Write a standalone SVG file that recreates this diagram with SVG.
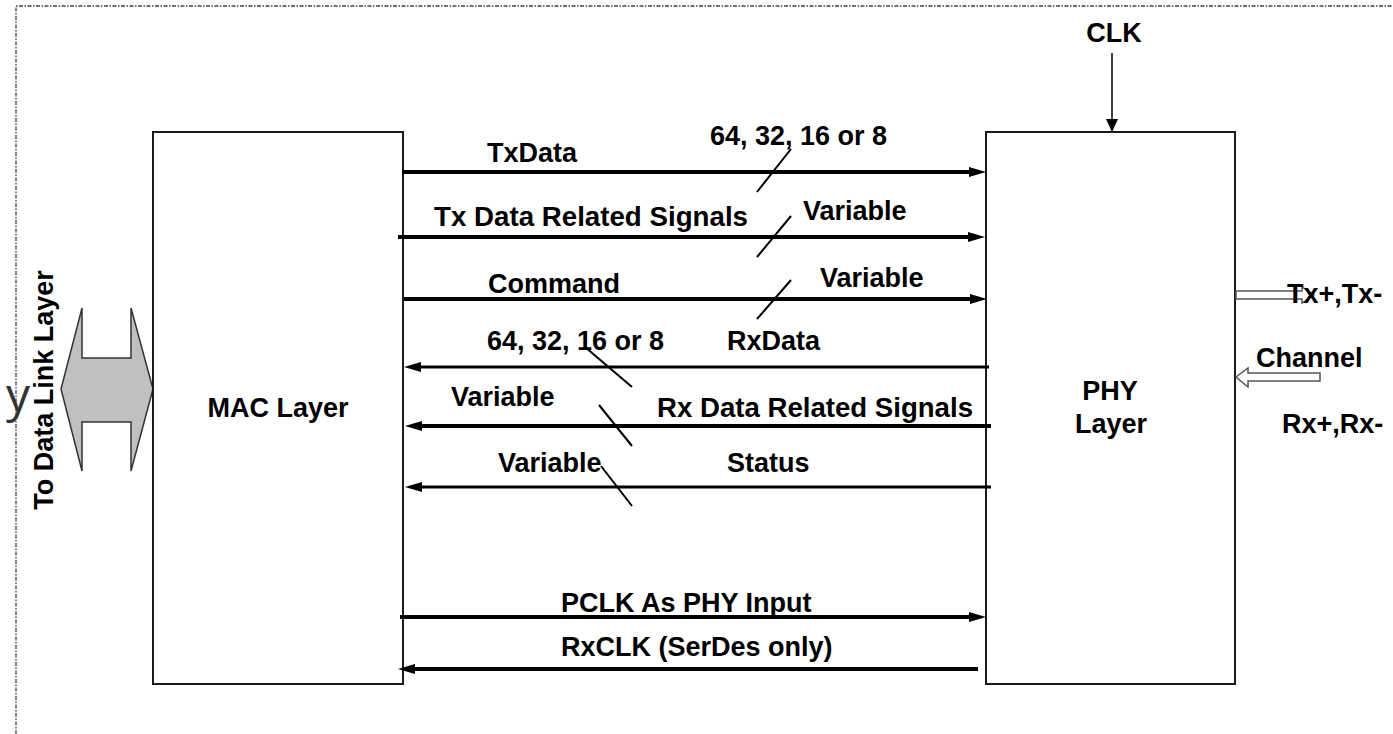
<svg xmlns="http://www.w3.org/2000/svg" width="1393" height="734" viewBox="0 0 1393 734">
  <style>
    .lbl { font-family: "Liberation Sans", Arial, sans-serif; font-weight: bold; font-size: 27px; fill: #000; }
    .box { fill: #fff; stroke: #1a1a1a; stroke-width: 2; }
    .bus { stroke: #000; stroke-width: 4; fill: none; }
    .bus-thin { stroke: #000; stroke-width: 3; fill: none; }
    .width { stroke: #000; stroke-width: 2; }
    .hollow { fill: #fff; stroke: #555; stroke-width: 1.5; }
    .frame { fill: none; stroke: #444; stroke-width: 1.3; stroke-dasharray: 4 1.5 1.5 1.5; }
  </style>
  <defs>
    <marker id="head" markerUnits="userSpaceOnUse" markerWidth="18" markerHeight="12" viewBox="0 0 18 12" refX="1" refY="6" orient="auto">
      <path d="M0,1 L17,6 L0,11 z" fill="#000"/>
    </marker>
    <marker id="head-sm" markerUnits="userSpaceOnUse" markerWidth="14" markerHeight="14" viewBox="0 0 14 14" refX="1" refY="7" orient="auto">
      <path d="M0,1 L13,7 L0,13 z" fill="#000"/>
    </marker>
  </defs>

  <rect width="1393" height="734" fill="#fff"/>

  <!-- page frame -->
  <path class="frame" d="M16,734 L16,6 L1393,6"/>

  <!-- stray glyph at the left margin -->
  <text x="6" y="412" font-family="'Open Sans', 'DejaVu Sans', sans-serif" font-size="48" fill="#333">y</text>

  <!-- link to the data link layer -->
  <g id="datalink">
    <path d="M61,389 L82,308 L82,358 L131,358 L131,308 L153,389 L131,471 L131,422 L82,422 L82,471 Z" fill="#c0c0c0" stroke="#333" stroke-width="1.5" stroke-linejoin="miter"/>
    <text class="lbl" transform="translate(53,390) rotate(-90)" text-anchor="middle">To Data Link Layer</text>
  </g>

  <!-- MAC block -->
  <g id="mac">
    <rect class="box" x="153" y="132" width="250" height="552"/>
    <text class="lbl" x="278" y="417" text-anchor="middle">MAC Layer</text>
  </g>

  <!-- PHY block -->
  <g id="phy">
    <rect class="box" x="986" y="132" width="249" height="552"/>
    <text class="lbl" x="1110" y="400" text-anchor="middle">PHY</text>
    <text class="lbl" x="1111" y="433" text-anchor="middle">Layer</text>
  </g>

  <!-- clock input -->
  <g id="clk">
    <line x1="1112" y1="53" x2="1112" y2="120" stroke="#000" stroke-width="1.5" marker-end="url(#head-sm)"/>
    <text class="lbl" x="1114" y="42" text-anchor="middle">CLK</text>
  </g>

  <!-- line side -->
  <g id="line-side">
    <path class="hollow" d="M1236,291 L1302,291 L1302,287 L1314,295 L1302,303 L1302,299 L1236,299 Z"/>
    <text class="lbl" x="1287" y="303">Tx+,Tx-</text>
    <path class="hollow" d="M1236,377 L1248,368 L1248,373 L1320,373 L1320,381 L1248,381 L1248,387 Z"/>
    <text class="lbl" x="1256" y="367">Channel</text>
    <text class="lbl" x="1282" y="433">Rx+,Rx-</text>
  </g>

  <!-- MAC/PHY interface signals -->
  <g id="connectors">
    <line class="bus" x1="402" y1="172" x2="970" y2="172" marker-end="url(#head)"/>
    <line class="bus" x1="398" y1="237" x2="969" y2="237" marker-end="url(#head)"/>
    <line class="bus" x1="404" y1="299" x2="971" y2="299" marker-end="url(#head)"/>
    <line class="bus-thin" x1="989" y1="367" x2="420" y2="367" marker-end="url(#head)"/>
    <line class="bus" x1="991" y1="426" x2="421" y2="426" marker-end="url(#head)"/>
    <line class="bus-thin" x1="991" y1="487" x2="421" y2="487" marker-end="url(#head)"/>
    <line class="bus" x1="400" y1="617" x2="970" y2="617" marker-end="url(#head)"/>
    <line class="bus" x1="978" y1="669" x2="414" y2="669" marker-end="url(#head)"/>

    <!-- bus width ticks -->
    <line class="width" x1="757" y1="192" x2="791" y2="149"/>
    <line class="width" x1="757" y1="257" x2="791" y2="216"/>
    <line class="width" x1="757" y1="319" x2="791" y2="280"/>
    <line class="width" x1="585" y1="347" x2="632" y2="387"/>
    <line class="width" x1="599" y1="405" x2="632" y2="446"/>
    <line class="width" x1="601" y1="466" x2="632" y2="506"/>
  </g>

  <!-- signal labels -->
  <g id="labels">
    <text class="lbl" x="487" y="162">TxData</text>
    <text class="lbl" x="710" y="145">64, 32, 16 or 8</text>
    <text class="lbl" x="434" y="226" textLength="314" lengthAdjust="spacingAndGlyphs">Tx Data Related Signals</text>
    <text class="lbl" x="803" y="220">Variable</text>
    <text class="lbl" x="488" y="293">Command</text>
    <text class="lbl" x="820" y="287">Variable</text>
    <text class="lbl" x="487" y="350">64, 32, 16 or 8</text>
    <text class="lbl" x="727" y="350">RxData</text>
    <text class="lbl" x="451" y="406">Variable</text>
    <text class="lbl" x="657" y="417" textLength="316" lengthAdjust="spacingAndGlyphs">Rx Data Related Signals</text>
    <text class="lbl" x="498" y="472">Variable</text>
    <text class="lbl" x="727" y="472">Status</text>
    <text class="lbl" x="561" y="612">PCLK As PHY Input</text>
    <text class="lbl" x="561" y="656">RxCLK (SerDes only)</text>
  </g>
</svg>
